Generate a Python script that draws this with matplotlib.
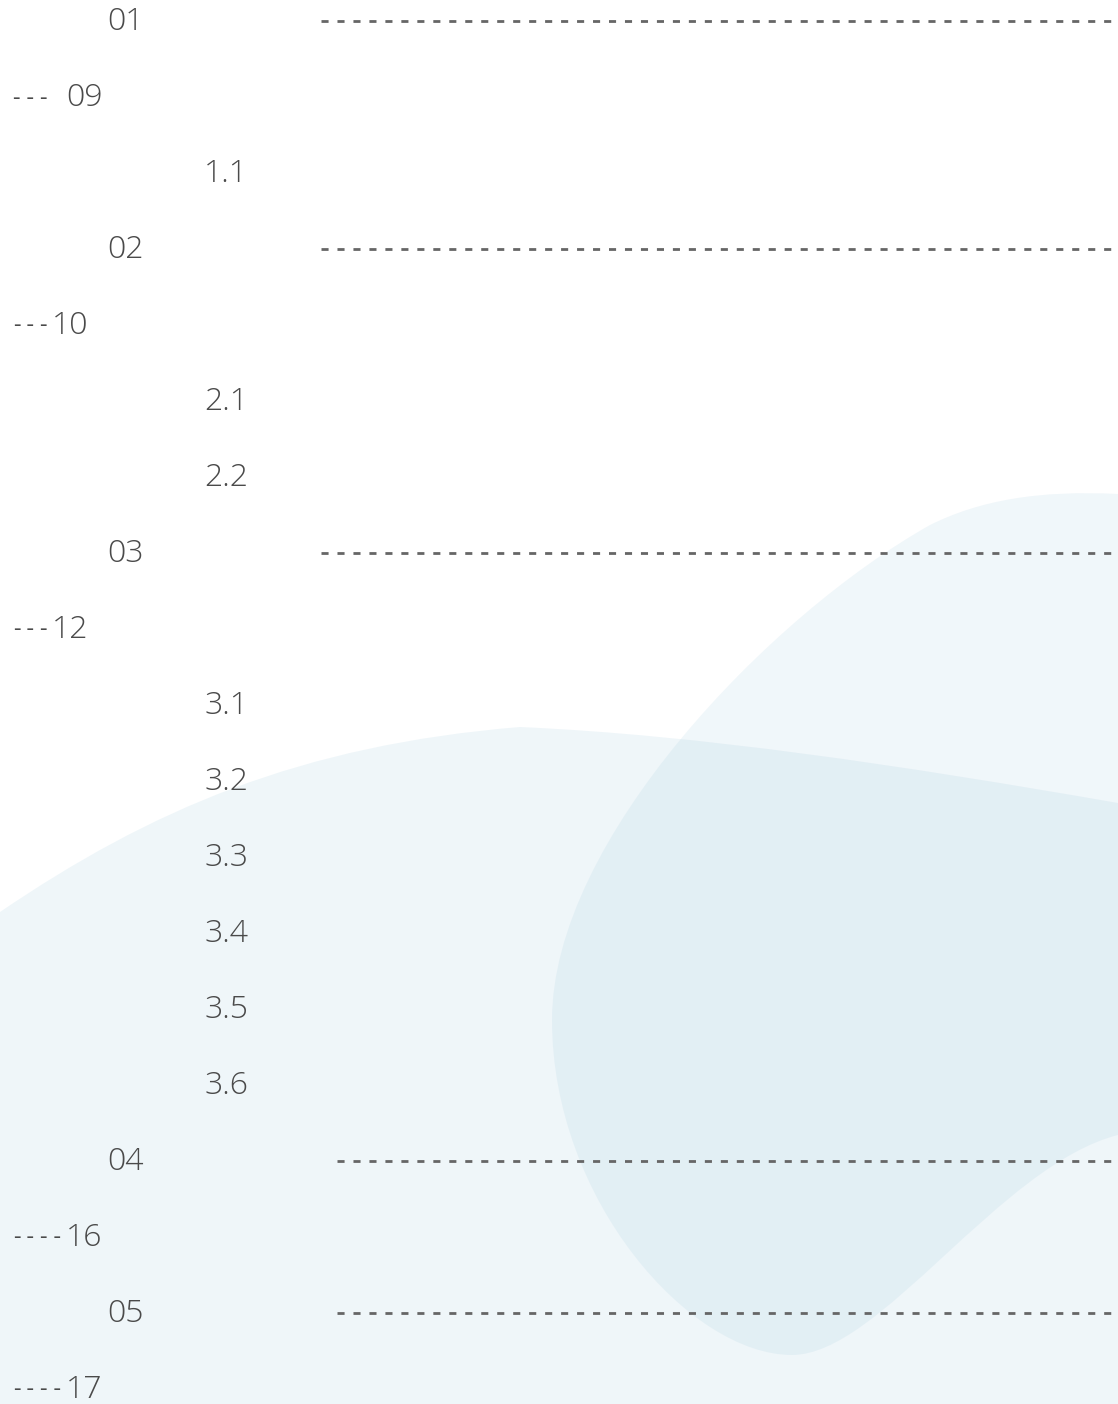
import numpy as np
import matplotlib.pyplot as plt
from matplotlib.path import Path
from matplotlib.patches import PathPatch

# Table of contents entries: label, indent level
labels = ['01', '--- 09', '1.1', '02', '---10', '2.1', '2.2', '03', '---12',
          '3.1', '3.2', '3.3', '3.4', '3.5', '3.6', '04', '----16', '05', '----17']
levels = [1, 0, 2, 1, 0, 2, 2, 1, 0, 2, 2, 2, 2, 2, 2, 1, 0, 1, 0]

# leader lines after chapter headings: row index and start of the line
leader_rows = [0, 3, 7, 15, 17]
leader_start = [321, 321, 321, 337, 337]
leader_end = 1112

W, H = 1118, 1404
fig = plt.figure(figsize=(W / 100, H / 100), dpi=100)
ax = fig.add_axes([0, 0, 1, 1])
ax.set_xlim(0, W)
ax.set_ylim(H, 0)
ax.axis('off')

# background shapes
blue = (0.57, 0.76, 0.85)
wave = [(0, 912), (150, 810), (300, 745), (520, 727),
        (700, 735), (900, 765), (1118, 803),
        (1118, 1404), (0, 1404), (0, 912)]
wave_codes = [Path.MOVETO, Path.CURVE4, Path.CURVE4, Path.CURVE4,
              Path.CURVE4, Path.CURVE4, Path.CURVE4,
              Path.LINETO, Path.LINETO, Path.CLOSEPOLY]
ax.add_patch(PathPatch(Path(wave, wave_codes), fc=blue, ec='none', alpha=0.14))

oval = [(1118, 494), (1040, 490), (980, 500), (930, 525),
        (770, 615), (552, 840), (552, 1020),
        (552, 1200), (690, 1355), (792, 1355),
        (880, 1355), (1000, 1165), (1118, 1135),
        (1118, 494)]
oval_codes = [Path.MOVETO, Path.CURVE4, Path.CURVE4, Path.CURVE4,
              Path.CURVE4, Path.CURVE4, Path.CURVE4,
              Path.CURVE4, Path.CURVE4, Path.CURVE4,
              Path.CURVE4, Path.CURVE4, Path.CURVE4,
              Path.CLOSEPOLY]
ax.add_patch(PathPatch(Path(oval, oval_codes), fc=blue, ec='none', alpha=0.13))

# entries
x_by_level = {0: 10, 1: 107, 2: 204}
y0, step = 18, 76
txt = dict(fontsize=23, color='#4a4a4a', fontweight='light',
           family=['Open Sans', 'DejaVu Sans'])
mono_size = 16.1
pitch = 0.602 * mono_size * 100 / 72   # advance of one mono character in px

for i, (lab, lv) in enumerate(zip(labels, levels)):
    base = y0 + step * i + 11.5
    num = lab.lstrip('- ')
    prefix = lab[:len(lab) - len(num)]
    x = x_by_level[lv]
    if prefix:
        ax.text(x, base - 2, prefix, ha='left', va='baseline',
                fontsize=mono_size, color='#4a4a4a', family='DejaVu Sans Mono')
        x = x + len(prefix) * pitch + 2
    ax.text(x, base, num, ha='left', va='baseline', **txt)

for r, xs in zip(leader_rows, leader_start):
    y = y0 + step * r + 3
    ax.plot([xs, leader_end], [y, y], color='#666666', lw=2,
            ls=(0, (2.55, 3.2)), dash_capstyle='butt')

fig.savefig('out.png', dpi=100, facecolor='white')
